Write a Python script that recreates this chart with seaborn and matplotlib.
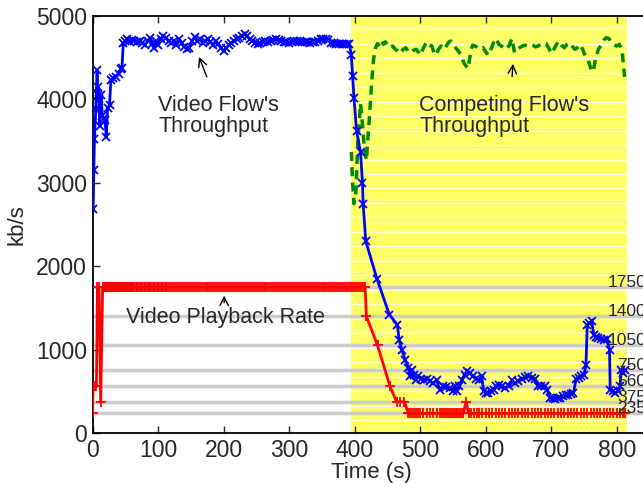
import numpy as np
import pandas as pd
import matplotlib
matplotlib.use("Agg")
import matplotlib.pyplot as plt
import seaborn as sns

# ---------------- data ----------------
video_t = [1, 2, 3, 5, 7, 8, 9, 10, 11, 13, 15, 17, 19, 21, 23, 26, 28, 32, 36, 40, 43, 45, 47,
           50, 53, 56, 60, 64, 68, 72, 76, 80, 84, 88, 91, 94, 97, 100, 104, 108, 112, 116, 120,
           124, 128, 132, 136, 140, 144, 148, 152, 156, 160, 164, 168, 172, 176, 180, 184, 188,
           192, 196, 200, 204, 208, 212, 216, 220, 224, 228, 232, 236, 240, 244, 248, 252, 256,
           260, 264, 268, 272, 276, 280, 284, 288, 292, 296, 300, 304, 308, 312, 316, 320, 324,
           328, 332, 336, 340, 344, 348, 352, 356, 360, 364, 368, 372, 376, 380, 384, 388, 392,
           395, 397, 399, 403, 409, 412, 413, 417, 434, 453, 465, 468, 472, 477, 482, 485, 488,
           490, 493, 497, 502, 506, 510, 515, 520, 525, 530, 535, 540, 545, 550, 553, 556, 560,
           564, 568, 572, 576, 580, 585, 590, 594, 597, 600, 604, 608, 612, 616, 620, 625, 630,
           635, 640, 645, 650, 655, 660, 665, 670, 675, 680, 685, 690, 694, 698, 702, 706, 710,
           714, 718, 722, 726, 730, 734, 738, 742, 746, 750, 753, 755, 758, 762, 765, 768, 772,
           776, 780, 785, 789, 790, 794, 798, 802, 805, 807, 809, 812]
video_kbps = [2680, 3150, 3520, 3880, 4350, 4050, 4150, 4000, 3680, 4050, 3800, 3780, 3750, 3550,
              3900, 3930, 4230, 4260, 4270, 4300, 4370, 4380, 4680,
              4700, 4720, 4700, 4710, 4700, 4690, 4700, 4680, 4650, 4700, 4740, 4660, 4620, 4700,
              4650, 4720, 4760, 4740, 4700, 4680, 4700, 4650, 4720, 4680, 4630, 4600, 4620, 4700,
              4750, 4700, 4720, 4680, 4700, 4720, 4690, 4650, 4700, 4660, 4620, 4580, 4620, 4650,
              4680, 4700, 4720, 4740, 4760, 4780, 4760, 4720, 4700, 4680, 4670, 4680, 4690, 4700,
              4690, 4700, 4710, 4720, 4710, 4700, 4690, 4690, 4680, 4690, 4700, 4700, 4700, 4690,
              4690, 4690, 4680, 4690, 4690, 4700, 4720, 4730, 4730, 4710, 4680, 4680, 4670, 4670,
              4670, 4670, 4660, 4660,
              4530, 4280, 4020, 3620, 3370, 3000, 2750, 2300, 1850, 1420, 1300, 1120, 1000, 880,
              780, 680, 760, 700, 640, 680, 650, 640, 650, 620, 600, 630, 520, 560, 550, 540, 500,
              560, 500, 560, 640, 700, 740, 720, 680, 650, 640, 680, 500, 480, 480, 500, 520, 560,
              570, 560, 540, 560, 630, 600, 620, 650, 670, 680, 660, 650, 560, 560, 560, 520, 420,
              420, 410, 420, 420, 440, 450, 460, 470, 480, 650, 660, 680, 700, 810, 1290, 1320,
              1340, 1180, 1150, 1140, 1130, 1120, 1130, 1000, 520, 500, 480, 500, 560, 750, 720,
              760]

# playback rate: start-up switching
rate_t_start = [0, 1, 4, 6, 7.5, 10, 12.5, 15.5]
rate_kbps_start = [235, 560, 560, 560, 1750, 1750, 375, 1750]
# playback rate: steady at top bitrate (sample instants)
rate_t_top = [18, 19, 20, 21, 22, 23, 24, 25, 26, 27, 28, 29, 30, 31, 32, 33, 34, 35, 36, 37, 38,
              39, 40, 41, 42, 43, 44, 45, 46, 47, 48, 49, 50, 51, 52, 53, 54, 55, 56, 57, 58, 59,
              60, 62, 64, 66, 68, 70, 72, 74, 76, 78, 80, 82, 84, 86, 88, 90, 92, 94, 96, 98, 100,
              102, 104, 106, 108, 110, 112, 114, 117, 120, 123, 126, 129, 132, 135, 138, 141, 144,
              147, 150, 153, 156, 159, 162, 165, 168, 171, 174, 177, 180, 183, 186, 189, 192, 195,
              198, 201, 204, 207, 210, 213, 216, 219, 222, 225, 228, 231, 234, 237, 240, 243, 246,
              249, 252, 255, 258, 261, 264, 267, 270, 273, 276, 279, 282, 285, 288, 291, 294, 297,
              300, 303, 306, 309, 312, 315, 318, 321, 324, 327, 330, 333, 336, 339, 342, 345, 348,
              351, 354, 357, 360, 363, 366, 369, 372, 375, 378, 381, 384, 387, 390, 393, 396, 399,
              402, 405, 408, 411, 414]
rate_kbps_top = [1750] * len(rate_t_top)
# playback rate: downswitching after competing flow starts
rate_t_down = [416, 418, 435, 454, 464, 470, 476, 482]
rate_kbps_down = [1750, 1400, 1050, 560, 375, 375, 375, 235]
# playback rate: stuck at lowest bitrate (one blip to 375)
rate_t_low = [485, 488, 491, 494, 497, 500, 505, 510, 515, 520, 525, 530, 533, 536, 539, 542,
              545, 548, 551, 554, 557, 560, 563, 566, 570, 574, 578, 582, 586, 590, 595, 600,
              605, 610, 615, 620, 625, 630, 635, 640, 645, 650, 655, 660, 665, 670, 675, 680,
              685, 690, 695, 700, 705, 710, 715, 720, 725, 730, 735, 740, 745, 750, 755, 760,
              765, 770, 775, 780, 785, 790, 795, 800, 805, 810, 813]
rate_kbps_low = [235] * 24 + [375] + [235] * 50

competing_t = [395, 397, 399, 402, 405, 409, 412, 415, 418, 420, 423, 426, 429, 432, 435, 438,
               441, 444, 447, 450, 454, 458, 462, 466, 470, 474, 478, 482, 486, 490, 494, 498,
               500, 504, 508, 511, 514, 518, 521, 524, 528, 532, 536, 540, 544, 547, 550, 554,
               558, 562, 566, 569, 573, 577, 580, 584, 588, 592, 596, 600, 604, 608, 612, 616,
               620, 624, 628, 632, 636, 640, 644, 648, 652, 656, 660, 664, 668, 672, 676, 680,
               684, 688, 692, 696, 700, 704, 708, 712, 716, 720, 724, 728, 732, 736, 740, 744,
               748, 752, 756, 760, 764, 768, 772, 776, 780, 784, 788, 792, 796, 800, 804, 808,
               812]
competing_kbps = [3370, 3000, 2750, 2900, 3500, 3950, 3700, 3400, 3270, 3500, 3830, 4200, 4490,
                  4620, 4670, 4640, 4700, 4660, 4690, 4650, 4620, 4640, 4600, 4580, 4550, 4600,
                  4620, 4570, 4560, 4590, 4600, 4560, 4530, 4600, 4660, 4690, 4650, 4640, 4560,
                  4530, 4600, 4640, 4600, 4640, 4690, 4700, 4660, 4620, 4580, 4540, 4450, 4410,
                  4370, 4560, 4650, 4640, 4620, 4600, 4620, 4570, 4530, 4600, 4680, 4730, 4660,
                  4640, 4620, 4600, 4650, 4730, 4560, 4600, 4620, 4640, 4650, 4640, 4660, 4650,
                  4630, 4640, 4660, 4680, 4670, 4620, 4550, 4600, 4660, 4700, 4650, 4620, 4660,
                  4680, 4640, 4600, 4620, 4660, 4600, 4520, 4480, 4380, 4330, 4500, 4600, 4650,
                  4710, 4740, 4730, 4680, 4650, 4640, 4660, 4600, 4270]

rate_levels = [235, 375, 560, 750, 1050, 1400, 1750]
rate_labels = ["235", "375", "560", "750", "1050", "1400", "1750"]
x_ticks = [0, 100, 200, 300, 400, 500, 600, 700, 800]
y_ticks = [0, 1000, 2000, 3000, 4000, 5000]

rate_t = rate_t_start + rate_t_top + rate_t_down + rate_t_low
rate_kbps = rate_kbps_start + rate_kbps_top + rate_kbps_down + rate_kbps_low

# ---------------- style ----------------
sns.set_style("ticks")
plt.rcParams["font.family"] = ["Liberation Sans", "DejaVu Sans"]
plt.rcParams["font.size"] = 15

W, H = 643, 487
fig = plt.figure(figsize=(W / 100, H / 100), dpi=100)
left, right, bottom, top = 92.5, 649.5, 433, 16
ax = fig.add_axes([left / W, 1 - bottom / H, (right - left) / W, (bottom - top) / H])

# shaded competing period
ax.axvspan(395, 815, color="#ffff66", zorder=0, lw=0)
ax.hlines(np.linspace(156, 4840, 28), 395, 815, color="white", alpha=0.8, lw=1, zorder=0.5)

# bitrate levels
for v in rate_levels:
    ax.axhline(v, color="#cccccc", lw=2.5, zorder=1)
for v, s in zip(rate_levels, rate_labels):
    ax.text(845, v, s, ha="right", va="baseline", fontsize=12.5, clip_on=False, zorder=5)

df_video = pd.DataFrame({"t": video_t, "kbps": video_kbps})
df_rate = pd.DataFrame({"t": rate_t, "kbps": rate_kbps})
df_comp = pd.DataFrame({"t": competing_t, "kbps": competing_kbps})

sns.lineplot(data=df_comp, x="t", y="kbps", ax=ax, color="#008800", lw=2.5, sort=False,
             estimator=None, zorder=3)
ax.lines[-1].set_dashes([2.6, 1.8])
sns.lineplot(data=df_rate, x="t", y="kbps", ax=ax, color="#ff0000", lw=2, sort=False,
             estimator=None, marker="+", markersize=7, mew=1.3, mec="#ff0000", mfc="#ff0000",
             zorder=3)
sns.lineplot(data=df_video, x="t", y="kbps", ax=ax, color="#0000ff", lw=2, sort=False,
             estimator=None, marker="x", markersize=6, mew=1.3, mec="#0000ff", mfc="#0000ff",
             zorder=4)

# annotations
ax.text(100, 3800, "Video Flow's\nThroughput", fontsize=15.5, va="center", ha="left", linespacing=1.0)
ax.annotate("", xy=(161, 4540), xytext=(176, 4240),
            arrowprops=dict(arrowstyle="->", color="black", lw=1))
ax.text(499, 3800, "Competing Flow's\nThroughput", fontsize=15.5, va="center", ha="left", linespacing=1.0)
ax.annotate("", xy=(642, 4460), xytext=(640, 4240),
            arrowprops=dict(arrowstyle="->", color="black", lw=1))
ax.text(51, 1380, "Video Playback Rate", fontsize=15.5, va="center", ha="left")
ax.annotate("", xy=(201, 1680), xytext=(201, 1530),
            arrowprops=dict(arrowstyle="->", color="black", lw=1))

ax.set_xlim(0, 850)
ax.set_ylim(0, 5000)
ax.set_xticks(x_ticks)
ax.set_yticks(y_ticks)
ax.set_xlabel("Time (s)", fontsize=16, labelpad=0)
ax.set_ylabel("kb/s", fontsize=16, labelpad=6)
ax.tick_params(direction="in", length=5, width=1, top=True, labelsize=16.5, pad=4)
for s in ["left", "bottom", "top", "right"]:
    ax.spines[s].set_visible(True)
    ax.spines[s].set_linewidth(1.3)
    ax.spines[s].set_color("black")

fig.savefig("out.png", dpi=100)
